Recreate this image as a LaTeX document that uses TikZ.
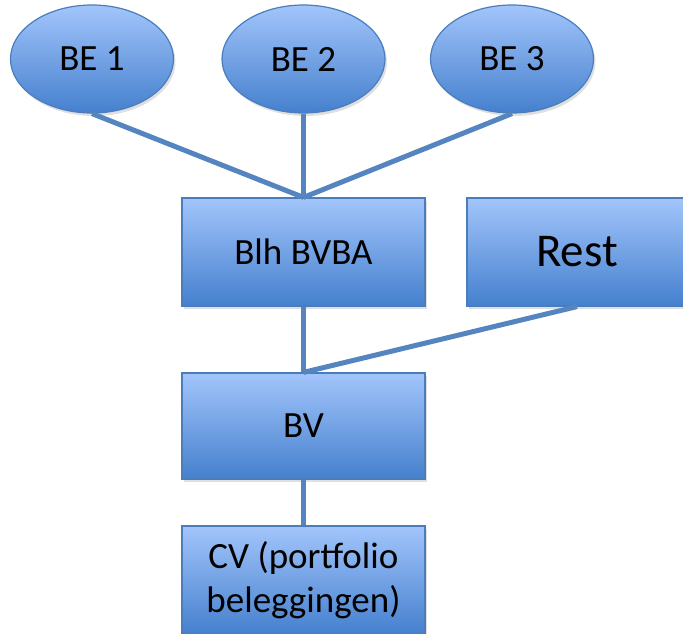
\documentclass[tikz,border=0pt]{standalone}
\usepackage{fontspec}
\setmainfont{Carlito}
\usetikzlibrary{shapes.geometric,shadows}
\definecolor{boxtop}{HTML}{A2C5FB}
\definecolor{boxbottom}{HTML}{4580CE}
\definecolor{boxline}{HTML}{4A7EBB}
\definecolor{linkblue}{HTML}{5585C0}
\tikzset{
  unitbox/.style={draw=boxline,line width=1.2pt,top color=boxtop,bottom color=boxbottom,
    drop shadow={shadow xshift=2pt,shadow yshift=-3pt,opacity=0.25},
    minimum width=243pt,minimum height=108pt,inner sep=0pt,align=center,
    font=\fontsize{37}{44}\selectfont},
  unitoval/.style={unitbox,ellipse,minimum width=163pt,minimum height=108pt},
  link/.style={draw=linkblue,line width=5pt}
}
\begin{document}
\begin{tikzpicture}[x=1pt,y=-1pt]
\useasboundingbox (0,0) rectangle (683,634);
\clip (0,0) rectangle (683,634);

% Ovals
\node[unitoval] (be1) at (92,59) {BE 1};
\node[unitoval] (be2) at (303.5,59) {BE 2};
\node[unitoval] (be3) at (512,59) {BE 3};

% Boxes
\node[unitbox] (blh) at (303.5,252) {Blh BVBA};
\node[unitbox,minimum width=220pt,font=\fontsize{47}{56}\selectfont] (rest) at (577,252) {Rest};
\node[unitbox,minimum height=106pt] (bv) at (303.5,426) {BV};
\node[unitbox] (cv) at (303.5,580) {CV (portfolio\\beleggingen)};

% Links
\draw[link] (be1.south) -- (blh.north);
\draw[link] (be2.south) -- (blh.north);
\draw[link] (be3.south) -- (blh.north);
\draw[link] (blh.south) -- (bv.north);
\draw[link] (rest.south) -- (bv.north);
\draw[link] (bv.south) -- (cv.north);
\end{tikzpicture}
\end{document}
